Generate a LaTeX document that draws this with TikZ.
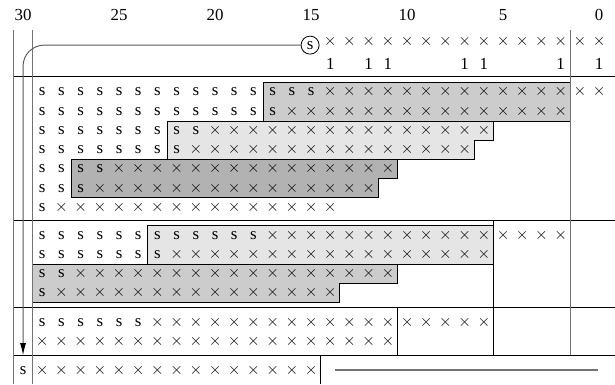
\documentclass[tikz,border=0pt]{standalone}
\usepackage{fontspec}
\setmainfont{Liberation Serif}
\usetikzlibrary{arrows.meta}
\newcommand\srow[4]{\foreach \k in {#3,...,#4}{\node[ch] (#1-\k) at ({31.2-\k},{#2+0.2}) {s};}}
\newcommand\xrow[4]{\foreach \k in {#3,...,#4}{\node[ch] (#1-\k) at ({31.2-\k},{#2+0.2}) {$\times$};}}
\begin{document}
\begin{tikzpicture}[x=0.5cm,y=-0.5cm,
  ch/.style={inner sep=0pt, anchor=base, font=\fontsize{12.5}{14}\selectfont},
  lab/.style={inner sep=0pt, font=\fontsize{12.5}{14}\selectfont},
  boxl/.style={draw=black, line width=0.6pt, fill=gray!20},
  boxm/.style={draw=black, line width=0.6pt, fill=gray!40},
  boxd/.style={draw=black, line width=0.6pt, fill=gray!60},
  sep/.style={draw=black, line width=0.8pt},
  gline/.style={draw=black!55, line width=0.8pt}]
\useasboundingbox (0,0) rectangle (32.03,20);
% boxes
\path[boxm] (13.7,4.3) rectangle (29.7,6.3);
\path[boxl] (8.7,6.3) -- (25.7,6.3) -- (25.7,7.3) -- (24.7,7.3) -- (24.7,8.3) -- (8.7,8.3) -- cycle;
\path[boxd] (3.7,8.3) -- (20.7,8.3) -- (20.7,9.3) -- (19.7,9.3) -- (19.7,10.3) -- (3.7,10.3) -- cycle;
\path[boxl] (7.7,11.75) rectangle (25.7,13.75);
\path[boxm] (1.7,13.75) -- (20.7,13.75) -- (20.7,14.75) -- (17.7,14.75) -- (17.7,15.75) -- (1.7,15.75) -- cycle;
% separators
\foreach \yy in {4.0,11.5,16.0,18.5} \draw[sep] (0.7,\yy) -- (32.03,\yy);
\draw[sep] (20.7,16.0) -- (20.7,18.5);
\draw[sep] (25.7,11.5) -- (25.7,18.5);
\draw[sep] (16.7,18.5) -- (16.7,20);
\draw[gline] (0.7,1.56) -- (0.7,20);
\draw[gline] (1.7,1.56) -- (1.7,20);
\draw[gline] (29.7,1.56) -- (29.7,18.5);
\draw[gline] (17.45,19.27) -- (31.15,19.27);
% scale labels
\foreach \v in {30,25,20,15,10,5,0} \node[lab] (lab\v) at ({31.2-\v},0.78) {\v};
% top row
\node[draw, circle, line width=0.6pt, inner sep=0pt, minimum size=0.47cm,
      font=\fontsize{12.5}{14}\selectfont] (src) at (16.15,2.35) {s};
\xrow{t}{2.15}{14}{0}
\foreach \v in {14,12,11,7,6,2,0} \node[lab] (one\v) at ({31.2-\v},3.35) {1};
% section 1
\srow{a1}{4.8}{29}{15}  \xrow{a1}{4.8}{14}{0}
\srow{a2}{5.8}{29}{17}  \xrow{a2}{5.8}{16}{2}
\srow{a3}{6.8}{29}{21}  \xrow{a3}{6.8}{20}{6}
\srow{a4}{7.8}{29}{22}  \xrow{a4}{7.8}{21}{7}
\srow{a5}{8.8}{29}{26}  \xrow{a5}{8.8}{25}{11}
\srow{a6}{9.8}{29}{27}  \xrow{a6}{9.8}{26}{12}
\node[ch] (a7-29) at (2.2,11.0) {s};
\xrow{a7}{10.8}{28}{14}
% section 2
\srow{b1}{12.25}{29}{18} \xrow{b1}{12.25}{17}{2}
\srow{b2}{13.25}{29}{23} \xrow{b2}{13.25}{22}{6}
\srow{b3}{14.25}{29}{28} \xrow{b3}{14.25}{27}{11}
\node[ch] (b4-29) at (2.2,15.45) {s};
\xrow{b4}{15.25}{28}{14}
% section 3
\srow{c1}{16.8}{29}{24} \xrow{c1}{16.8}{23}{6}
\xrow{c2}{17.8}{29}{11}
% section 4
\node[ch] (d1-30) at (1.2,19.5) {s};
\xrow{d1}{19.3}{29}{15}
% feedback arrow
\coordinate (aend) at (1.2,18.5);
\draw[black!65, line width=0.7pt, rounded corners=0.55cm,
      -{Latex[length=9pt,width=4.5pt,color=black]}] (src.west) -| (aend);
\end{tikzpicture}
\end{document}
